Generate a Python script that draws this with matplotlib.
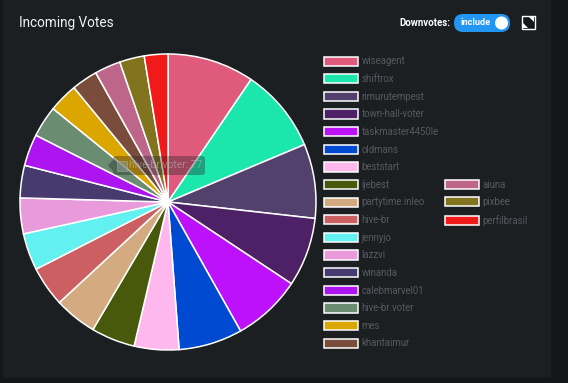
import matplotlib
matplotlib.use('Agg')
import matplotlib.pyplot as plt
from matplotlib.patches import FancyBboxPatch, Circle, Rectangle, Polygon

plt.rcParams['font.family'] = ['Roboto', 'DejaVu Sans']

names = ['wiseagent', 'shiftrox', 'rimurutempest', 'town-hall-voter', 'taskmaster4450le',
         'oldmans', 'beststart', 'ijebest', 'partytime.inleo', 'hive-br', 'jennyjo', 'lazzvi',
         'winanda', 'calebmarvel01', 'hive-br.voter', 'mes', 'khantaimur', 'aiuna', 'pixbee',
         'perfilbrasil']
votes = [214, 207, 183, 170, 170, 157, 110, 108, 105, 99, 91, 88, 80, 78, 77, 72, 64, 64, 61, 58]
colors = ['#e05a7b', '#1be7ad', '#52406d', '#4e2166', '#bd10fb', '#0049d1', '#ffb8ee', '#48590b',
          '#d4ab80', '#cb5f62', '#62f0f0', '#e99ada', '#463a6e', '#ac14f0', '#6a8c70', '#dba600',
          '#7a4c3c', '#bd6689', '#82731f', '#f11a1a']

W, H = 568, 383
fig = plt.figure(figsize=(W / 100, H / 100), dpi=100, facecolor='#141618')
ax = fig.add_axes([0, 0, 1, 1])

# panel
ax.add_patch(FancyBboxPatch((3, H - 377.5), 548, 400, boxstyle='round,pad=0,rounding_size=2',
                            fc='#1c1f22', ec='none', zorder=0))

wedges, _ = ax.pie(votes, colors=colors, startangle=90, counterclock=False,
                   center=(168, H - 202), radius=148,
                   wedgeprops={'edgecolor': 'white', 'linewidth': 1.1})
ax.set_xlim(0, W)
ax.set_ylim(0, H)
ax.set_aspect('auto')
ax.axis('off')
ax.patch.set_visible(False)

ax.text(19, H - 22.5, 'Incoming Votes', color='#eef2f5', fontsize=9.8, va='center', ha='left')

# legend, two columns of unequal length
fs = 6.9
opts = dict(frameon=False, fontsize=fs, labelcolor='#565a5e', borderpad=0, borderaxespad=0,
            handlelength=3.5, handleheight=1.1, handletextpad=0.42, labelspacing=0.795,
            loc='upper left', bbox_transform=ax.transData)
leg1 = ax.legend(wedges[:17], names[:17], bbox_to_anchor=(324, H - 56.5), **opts)
ax.add_artist(leg1)
ax.legend(wedges[17:], names[17:], bbox_to_anchor=(445, H - 179.5), **opts)

# faded tooltip
ax.add_patch(FancyBboxPatch((113, H - 175), 92, 19, boxstyle='round,pad=0,rounding_size=3',
                            fc='#1c1f22', ec='none', alpha=0.35, zorder=5))
ax.add_patch(Polygon([(113, H - 160), (108, H - 165.5), (113, H - 171)], fc='#1c1f22', alpha=0.35, zorder=5))
ax.add_patch(Rectangle((117, H - 171), 10, 10, fc='#8a9c8f', ec='#b5b5b5', lw=0.5, alpha=0.6, zorder=6))
ax.text(129, H - 165.5, 'hive-br.voter: 77', color='#c4c4c4', alpha=0.5, fontsize=7.4,
        va='center', ha='left', zorder=6)

# downvotes toggle
ax.text(450, H - 23, 'Downvotes:', color='white', fontsize=6.9, fontweight='bold', va='center', ha='right')
ax.add_patch(FancyBboxPatch((454, H - 32), 56, 18, boxstyle='round,pad=0,rounding_size=9',
                            fc='#2196f3', ec='none', zorder=3))
ax.text(461, H - 22.5, 'include', color='white', fontsize=6.6, fontweight='bold', va='center', ha='left', zorder=4)
ax.add_patch(Circle((501.5, H - 23), 6.5, fc='white', ec='none', zorder=4))

# expand icon
ax.add_patch(Rectangle((522, H - 29), 13, 13, fc='#15171a', ec='white', lw=1, zorder=3))
ax.add_patch(Polygon([(534, H - 17), (529, H - 17), (534, H - 22)], fc='white', zorder=4))
ax.add_patch(Polygon([(523, H - 28), (528, H - 28), (523, H - 23)], fc='white', zorder=4))

fig.savefig('out.png', dpi=100, facecolor=fig.get_facecolor())
